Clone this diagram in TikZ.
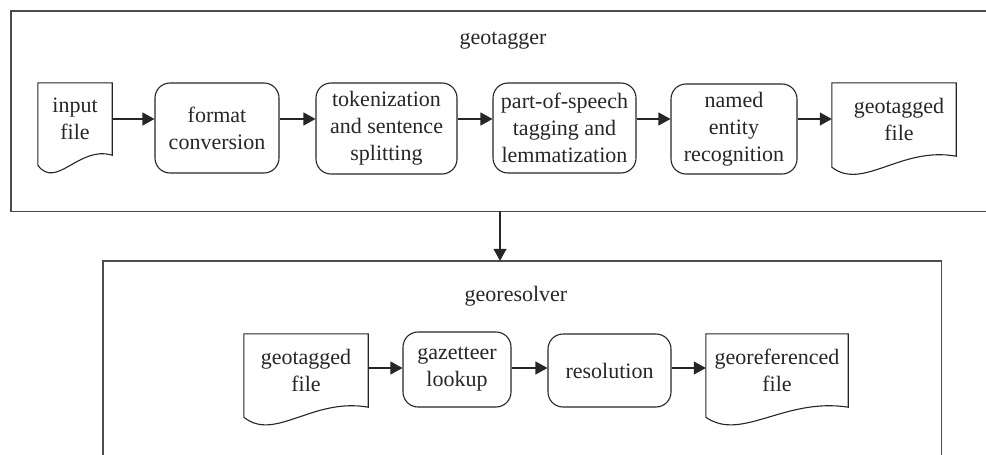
\documentclass[tikz,border=0pt]{standalone}
\usepackage{fontspec}
\setmainfont{Liberation Serif}
\usetikzlibrary{arrows.meta,calc}
\begin{document}
\begin{tikzpicture}[x=1pt,y=-1pt,
  every node/.style={font=\fontsize{22}{27}\selectfont, inner sep=0pt, align=center, text=black!85},
  frame/.style={draw=black!70, line width=1.4pt},
  procbox/.style={draw=black!85, line width=1.1pt, rounded corners=15pt},
  docline/.style={draw=black!85, line width=1.1pt},
  arr/.style={draw=black!85, line width=1.1pt, -{Triangle[length=12pt,width=13pt]}}
]
\useasboundingbox (0,0) rectangle (986,455);
\newcommand{\docoutline}[3]{%
  \path (#1.north west) coordinate (dtl) (#1.south east) coordinate (dbr);
  \draw[docline] (dtl) -| (dbr)
    .. controls ($(dbr)+(-0.45*#3,-10)$) and ($(dtl|-dbr)+(0.25*#3,35)$) ..
    ($(dtl|-dbr)+(0,#2)$) -- cycle;}
% frames
\node[minimum width=995pt, minimum height=200pt] (tagger) at (508.5,111) {};
\draw[frame] (tagger.north east) -- (tagger.north west) -- (tagger.south west) -- (tagger.south east);
\node[minimum width=838pt, minimum height=214pt] (resolver) at (522,368) {};
\draw[frame] (resolver.south west) -- (resolver.north west) -- (resolver.north east) -- (resolver.south east);
\node[anchor=base] (t1) at (503,45) {geotagger};
\node[anchor=base] (t2) at (516,301) {georesolver};
% top row
\node[minimum width=74pt, minimum height=72pt] (inp) at (75,119) {input\\file};
\node[procbox, minimum width=124pt, minimum height=90pt] (fmt) at (217,128) {format\\conversion};
\node[procbox, minimum width=141pt, minimum height=91pt] (tok) at (386.5,128.5) {tokenization\\and sentence\\splitting};
\node[procbox, minimum width=143pt, minimum height=90pt] (pos) at (564.5,128) {part-of-speech\\tagging and\\lemmatization};
\node[procbox, minimum width=126pt, minimum height=90pt] (ner) at (734,129) {named\\entity\\recognition};
\node[minimum width=124pt, minimum height=73pt] (gtf) at (894,119.5) {\hspace*{10pt}geotagged\\\hspace*{10pt}file};
\docoutline{inp}{10}{74}
\docoutline{gtf}{11}{124}
\draw[arr] (inp.east) -- (fmt.west |- inp.east);
\draw[arr] (fmt.east |- inp.east) -- (tok.west |- inp.east);
\draw[arr] (tok.east |- inp.east) -- (pos.west |- inp.east);
\draw[arr] (pos.east |- inp.east) -- (ner.west |- inp.east);
\draw[arr] (ner.east |- inp.east) -- (gtf.west |- inp.east);
% between frames
\draw[arr] (tagger.south west -| 500,0) -- (resolver.north west -| 500,0);
% bottom row
\node[minimum width=124pt, minimum height=73pt] (gtf2) at (306,370.5) {geotagged\\file};
\node[procbox, minimum width=108pt, minimum height=75pt] (gaz) at (457,369.5) {gazetteer\\lookup};
\node[procbox, minimum width=123pt, minimum height=73pt] (res) at (609.5,370.5) {resolution};
\node[minimum width=142pt, minimum height=73pt] (geo) at (777,370.5) {georeferenced\\file};
\docoutline{gtf2}{10}{124}
\docoutline{geo}{10}{142}
\draw[arr] (gtf2.east |- 0,368) -- (gaz.west |- 0,368);
\draw[arr] (gaz.east |- 0,368) -- (res.west |- 0,368);
\draw[arr] (res.east |- 0,368) -- (geo.west |- 0,368);
\end{tikzpicture}
\end{document}
